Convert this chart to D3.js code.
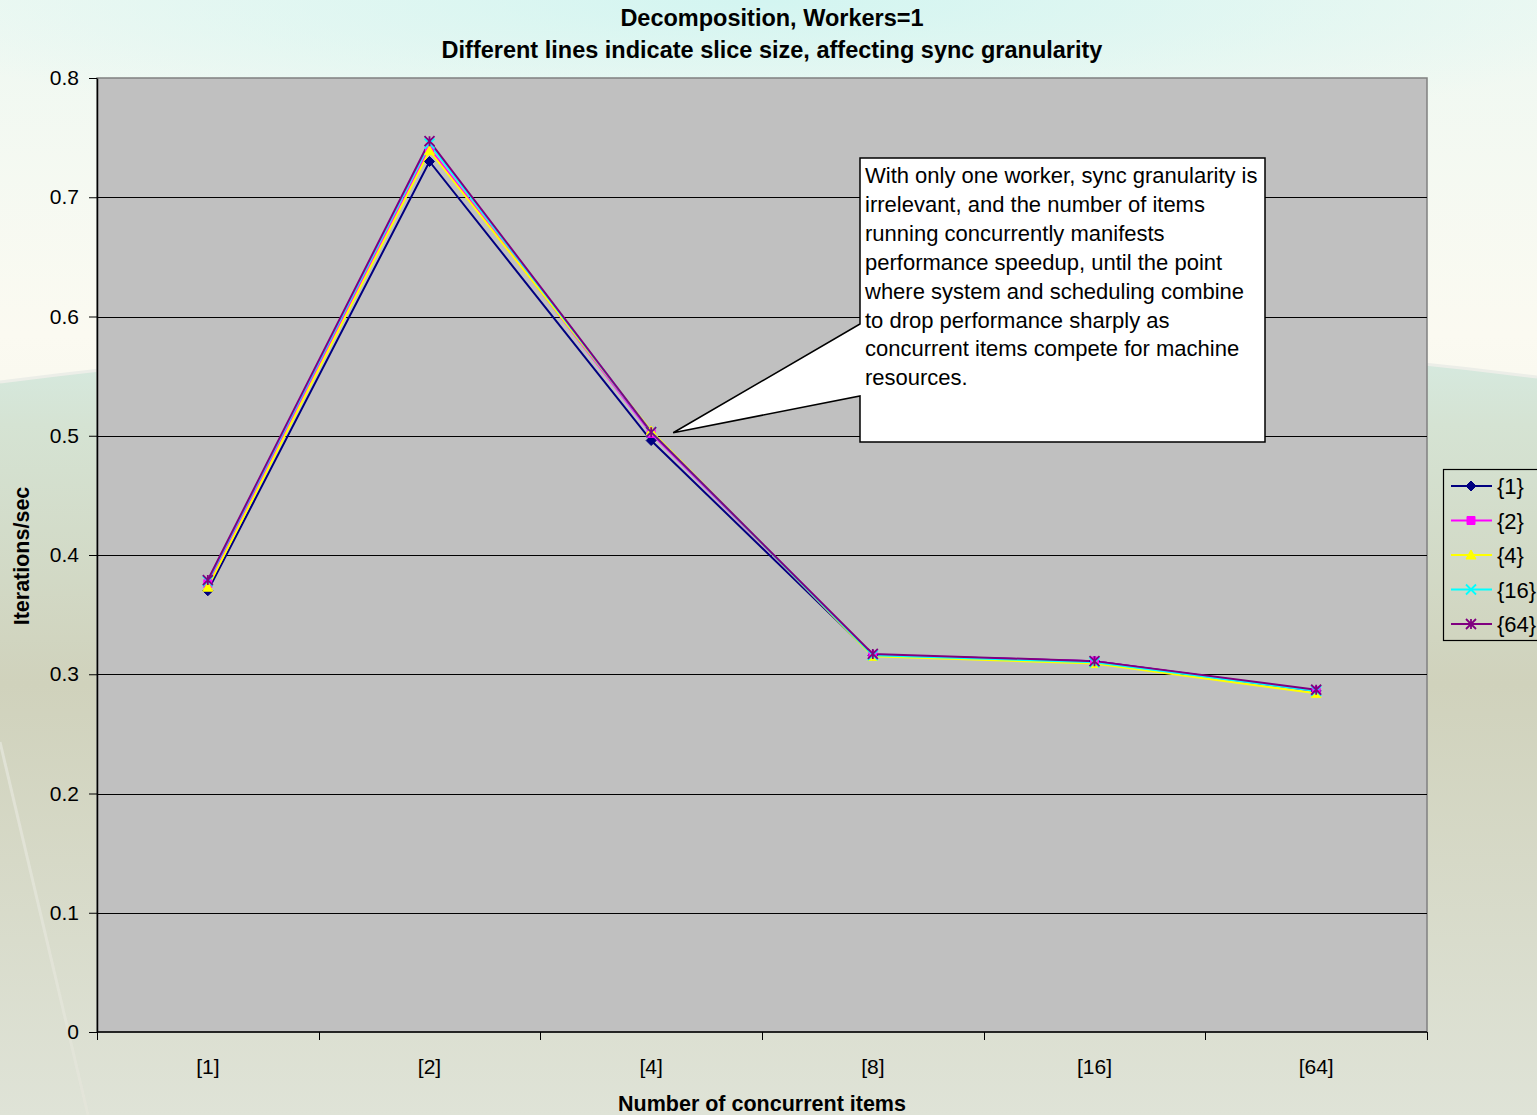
<!DOCTYPE html>
<html>
<head>
<meta charset="utf-8">
<script src="https://cdn.jsdelivr.net/npm/d3@7"></script>
<style>
  html, body { margin: 0; padding: 0; background: #f4f6ee; }
  svg { display: block; font-family: "Liberation Sans", Arial, sans-serif; }
</style>
</head>
<body>
<svg id="chart" width="1537" height="1115"></svg>
<script>
// Categories on the x axis (number of concurrent items)
const categories = ["[1]", "[2]", "[4]", "[8]", "[16]", "[64]"];

// Series: slice size
const seriesNames = ["{1}", "{2}", "{4}", "{16}", "{64}"];
const slice1  = [0.370, 0.730, 0.496, 0.316, 0.311, 0.286];
const slice2  = [0.376, 0.741, 0.502, 0.316, 0.311, 0.286];
const slice4  = [0.373, 0.739, 0.504, 0.315, 0.309, 0.284];
const slice16 = [0.378, 0.745, 0.503, 0.316, 0.310, 0.286];
const slice64 = [0.379, 0.747, 0.503, 0.317, 0.311, 0.287];
const seriesValues = [slice1, slice2, slice4, slice16, slice64];

const yTicks = [0, 0.1, 0.2, 0.3, 0.4, 0.5, 0.6, 0.7, 0.8];
const yTickLabels = ["0", "0.1", "0.2", "0.3", "0.4", "0.5", "0.6", "0.7", "0.8"];

const titleLines = ["Decomposition, Workers=1",
  "Different lines indicate slice size, affecting sync granularity"];
const xTitle = "Number of concurrent items";
const yTitle = "Iterations/sec";
const noteLines = [
  "With only one worker, sync granularity is",
  "irrelevant, and the number of items",
  "running concurrently manifests",
  "performance speedup, until the point",
  "where system and scheduling combine",
  "to drop performance sharply as",
  "concurrent items compete for machine",
  "resources."
];

const colors = ["#000080", "#ff00ff", "#ffff00", "#00ffff", "#800080"];
const markers = ["diamond", "square", "triangle", "cross", "star"];

const svg = d3.select("#chart");
const W = 1537, H = 1115;
const defs = svg.append("defs");

// ---- slide background ----
const bg = defs.append("linearGradient").attr("id", "bg").attr("x1", 0).attr("y1", 0).attr("x2", 0).attr("y2", 1);
bg.append("stop").attr("offset", 0).attr("stop-color", "#eef8f2");
bg.append("stop").attr("offset", 0.3).attr("stop-color", "#fbfaf1");
bg.append("stop").attr("offset", 1).attr("stop-color", "#e6e8dc");
svg.append("rect").attr("width", W).attr("height", H).attr("fill", "url(#bg)");

const glow = defs.append("radialGradient").attr("id", "glow")
  .attr("cx", 0.5).attr("cy", 0).attr("r", 0.6)
  .attr("gradientTransform", "scale(1,0.55)");
glow.append("stop").attr("offset", 0).attr("stop-color", "#d3f5f1").attr("stop-opacity", 1);
glow.append("stop").attr("offset", 1).attr("stop-color", "#d3f5f1").attr("stop-opacity", 0);
svg.append("rect").attr("width", W).attr("height", 420).attr("fill", "url(#glow)");

const lower = defs.append("linearGradient").attr("id", "lower").attr("x1", 0).attr("y1", 0).attr("x2", 0).attr("y2", 1);
lower.append("stop").attr("offset", 0).attr("stop-color", "#d6ece4");
lower.append("stop").attr("offset", 0.12).attr("stop-color", "#d5e3d3");
lower.append("stop").attr("offset", 0.45).attr("stop-color", "#d0d2bc");
lower.append("stop").attr("offset", 1).attr("stop-color", "#dfe3d7");
svg.append("path")
  .attr("d", `M0,382 Q770,282 ${W},377 L${W},${H} L0,${H} Z`)
  .attr("fill", "url(#lower)");
svg.append("path")
  .attr("d", `M0,382 Q770,282 ${W},377`)
  .attr("fill", "none").attr("stroke", "#eceee8").attr("stroke-width", 3);
svg.append("path")
  .attr("d", "M0,742 L88,1115")
  .attr("fill", "none").attr("stroke", "#e3e5da").attr("stroke-width", 3).attr("opacity", 0.8);

// ---- plot area ----
const plot = { left: 97, right: 1427, top: 78, bottom: 1032 };

const x = d3.scaleBand().domain(categories).range([plot.left, plot.right]).paddingInner(0).paddingOuter(0);
const cx = c => x(c) + x.bandwidth() / 2;
const y = d3.scaleLinear().domain([0, 0.8]).range([plot.bottom, plot.top]);

svg.append("rect")
  .attr("x", plot.left).attr("y", plot.top)
  .attr("width", plot.right - plot.left).attr("height", plot.bottom - plot.top)
  .attr("fill", "#c0c0c0").attr("stroke", "#808080").attr("stroke-width", 1.5);

// horizontal gridlines
svg.append("g").selectAll("line").data(yTicks.filter(t => t > 0 && t < 0.8)).join("line")
  .attr("x1", plot.left).attr("x2", plot.right)
  .attr("y1", d => Math.round(y(d)) + 0.5).attr("y2", d => Math.round(y(d)) + 0.5)
  .attr("stroke", "#000").attr("stroke-width", 1);

// y axis
const yAxis = d3.axisLeft(y).tickValues(yTicks).tickSize(8).tickSizeOuter(0)
  .tickFormat((d, i) => yTickLabels[i]);
const gy = svg.append("g").attr("transform", `translate(${plot.left},0)`).call(yAxis);
gy.select(".domain").attr("stroke", "#000").attr("stroke-width", 1.5);
gy.selectAll(".tick line").attr("stroke", "#000");
gy.selectAll(".tick text").attr("font-size", 21).attr("fill", "#000").attr("x", -18)
  .attr("font-family", "Liberation Sans, Arial, sans-serif");

// x axis: ticks at category boundaries, labels centred in each band
const boundaries = categories.map(c => x(c)).concat([plot.right]);
const gx = svg.append("g");
gx.append("line").attr("x1", plot.left).attr("x2", plot.right)
  .attr("y1", plot.bottom).attr("y2", plot.bottom).attr("stroke", "#000").attr("stroke-width", 1.5);
gx.selectAll("line.tk").data(boundaries).join("line").attr("class", "tk")
  .attr("x1", d => Math.round(d) + 0.5).attr("x2", d => Math.round(d) + 0.5)
  .attr("y1", plot.bottom).attr("y2", plot.bottom + 8).attr("stroke", "#000");
gx.selectAll("text").data(categories).join("text")
  .attr("x", d => cx(d)).attr("y", 1074)
  .attr("text-anchor", "middle").attr("font-size", 21).attr("fill", "#000").text(d => d);

// ---- series ----
function markerPath(type, s) {
  switch (type) {
    case "diamond": return `M0,${-s}L${s},0L0,${s}L${-s},0Z`;
    case "square": return `M${-s * 0.8},${-s * 0.8}h${s * 1.6}v${s * 1.6}h${-s * 1.6}Z`;
    case "triangle": return `M0,${-s}L${s},${s * 0.8}L${-s},${s * 0.8}Z`;
    case "cross": return `M${-s},${-s}L${s},${s}M${-s},${s}L${s},${-s}`;
    case "star": return `M${-s},${-s}L${s},${s}M${-s},${s}L${s},${-s}M0,${-s}L0,${s}`;
  }
}
function drawMarker(g, type, color, px, py, s) {
  const filled = type === "diamond" || type === "square" || type === "triangle";
  g.append("path").attr("d", markerPath(type, s))
    .attr("transform", `translate(${px},${py})`)
    .attr("fill", filled ? color : "none")
    .attr("stroke", color).attr("stroke-width", filled ? 1 : 1.8);
}

const line = d3.line().x((d, i) => cx(categories[i])).y(d => y(d));
const gs = svg.append("g");
seriesValues.forEach((vals, k) => {
  gs.append("path").datum(vals).attr("d", line)
    .attr("fill", "none").attr("stroke", colors[k]).attr("stroke-width", 2);
});
seriesValues.forEach((vals, k) => {
  vals.forEach((v, i) => drawMarker(gs, markers[k], colors[k], cx(categories[i]), y(v), 5));
});

// ---- callout ----
const note = { left: 860, top: 158, right: 1265, bottom: 442 };
const tip = { x: cx(categories[2]) + 22, y: y(0.5) - 3 };
const gc = svg.append("g");
gc.append("path")
  .attr("d", `M${note.left},${note.top} L${note.right},${note.top} L${note.right},${note.bottom} L${note.left},${note.bottom} L${note.left},396 L${tip.x},${tip.y} L${note.left},324 Z`)
  .attr("fill", "#fff").attr("stroke", "#000").attr("stroke-width", 1.5).attr("stroke-linejoin", "miter");
gc.selectAll("text").data(noteLines).join("text")
  .attr("x", note.left + 5).attr("y", (d, i) => 183 + i * 28.9)
  .attr("font-size", 22).attr("fill", "#000").text(d => d);

// ---- titles ----
svg.selectAll("text.title").data(titleLines).join("text").attr("class", "title")
  .attr("x", 772).attr("y", (d, i) => 26 + i * 32)
  .attr("text-anchor", "middle").attr("font-size", 23.5).attr("font-weight", "bold").text(d => d);
svg.append("text").attr("x", 762).attr("y", 1111).attr("text-anchor", "middle")
  .attr("font-size", 21.5).attr("font-weight", "bold").text(xTitle);
svg.append("text").attr("transform", "translate(29,556) rotate(-90)").attr("text-anchor", "middle")
  .attr("font-size", 21.5).attr("font-weight", "bold").text(yTitle);

// ---- legend ----
const gl = svg.append("g");
gl.append("rect").attr("x", 1443.5).attr("y", 469.5).attr("width", 110).attr("height", 171)
  .attr("fill", "none").attr("stroke", "#000").attr("stroke-width", 1.2);
seriesNames.forEach((name, k) => {
  const ly = 486 + k * 34.5;
  gl.append("line").attr("x1", 1451).attr("x2", 1492).attr("y1", ly).attr("y2", ly)
    .attr("stroke", colors[k]).attr("stroke-width", 2);
  drawMarker(gl, markers[k], colors[k], 1471, ly, 5);
  gl.append("text").attr("x", 1497).attr("y", ly + 8).attr("font-size", 22).text(name);
});
</script>
</body>
</html>
